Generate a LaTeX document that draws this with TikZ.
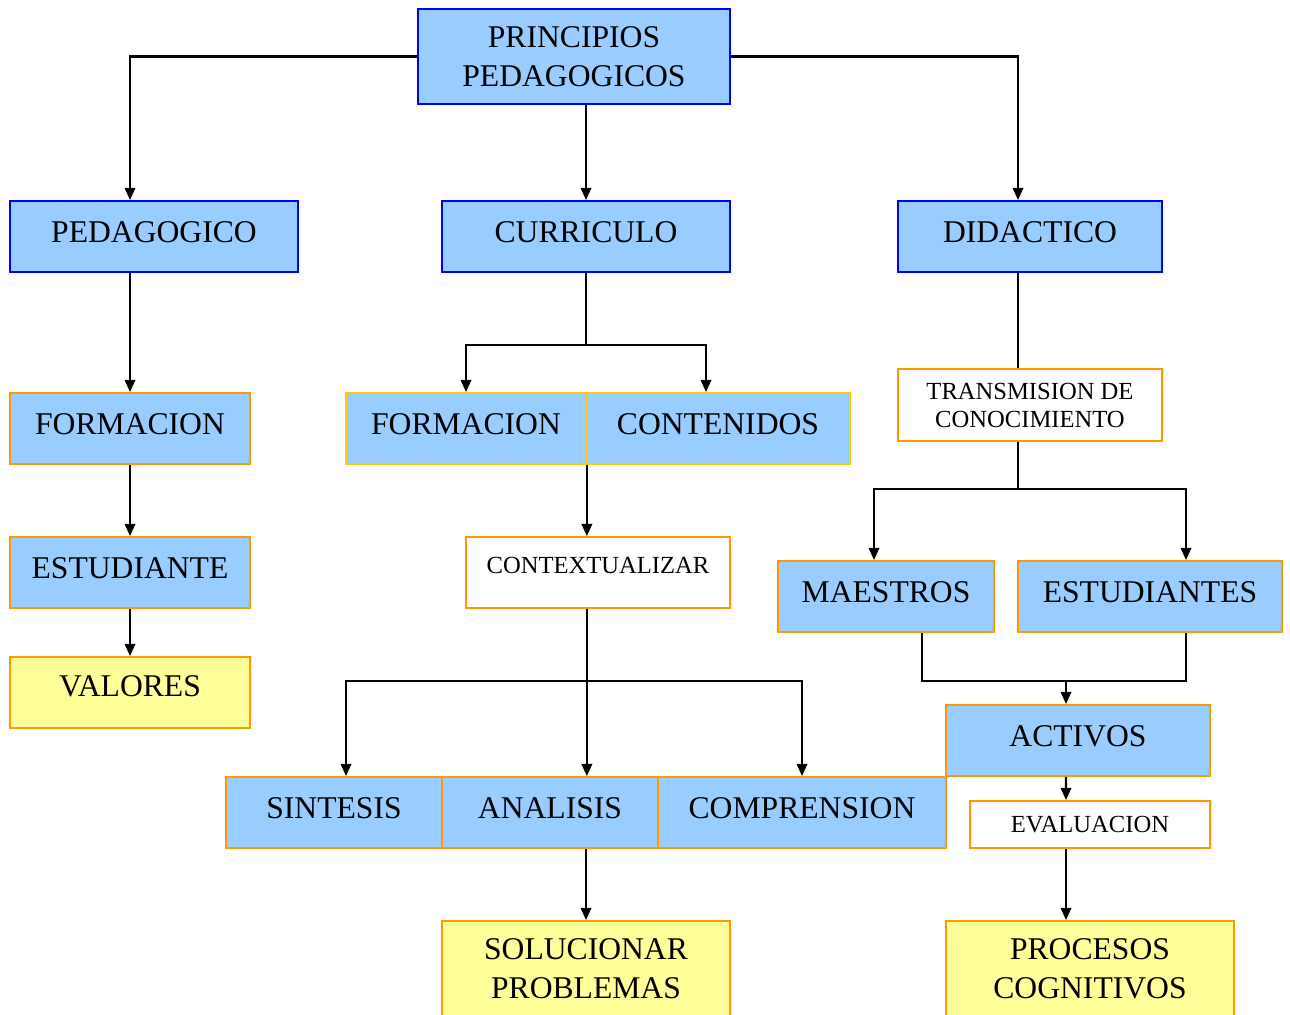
\documentclass[tikz,border=0pt]{standalone}
\usepackage{fontspec}
\setmainfont{Liberation Serif}
\usepackage{tikz}
\usetikzlibrary{shapes,arrows}
\usetikzlibrary{arrows.meta}

\definecolor{cajaazul}{HTML}{99CCFF}
\definecolor{cajaamarilla}{HTML}{FFFF99}
\definecolor{bordeazul}{HTML}{0000FF}
\definecolor{bordenaranja}{HTML}{FF9900}
\definecolor{bordeoro}{HTML}{FFCC00}

\tikzset{
	caja/.style={rectangle, line width=1pt, inner sep=0pt, align=center,
		font=\fontsize{18}{22}\selectfont, minimum height=1.42cm, text depth=5pt},
	azul/.style={caja, fill=cajaazul, draw=bordeazul},
	naranja/.style={caja, fill=cajaazul, draw=bordenaranja},
	oro/.style={caja, fill=cajaazul, draw=bordeoro},
	blanca/.style={caja, fill=white, draw=bordenaranja, font=\fontsize{14}{16}\selectfont, text depth=0pt},
	amarilla/.style={caja, fill=cajaamarilla, draw=bordenaranja},
	flecha/.style={-{Triangle[length=7pt,width=6pt]}, line width=1.2pt},
	linea/.style={line width=1.2pt}
}

\begin{document}
\begin{tikzpicture}

	\useasboundingbox (0,0) rectangle (25.8,-20.3);

	% Draw boxes
	\node[azul, minimum width=6.24cm, minimum height=1.90cm, text depth=0pt] (prin) at (11.48,-1.13) {PRINCIPIOS\\PEDAGOGICOS};
	\node[azul, minimum width=5.76cm] (ped) at (3.08,-4.73) {PEDAGOGICO};
	\node[azul, minimum width=5.76cm] (cur) at (11.72,-4.73) {CURRICULO};
	\node[azul, minimum width=5.28cm] (did) at (20.60,-4.73) {DIDACTICO};
	\node[naranja, minimum width=4.80cm] (form1) at (2.60,-8.57) {FORMACION};
	\node[oro, minimum width=4.80cm] (form2) at (9.32,-8.57) {FORMACION};
	\node[oro, minimum width=5.28cm] (cont) at (14.36,-8.57) {CONTENIDOS};
	\node[blanca, minimum width=5.28cm, minimum height=1.44cm] (trans) at (20.60,-8.10) {TRANSMISION DE\\CONOCIMIENTO};
	\node[naranja, minimum width=4.80cm] (est) at (2.60,-11.45) {ESTUDIANTE};
	\node[blanca, minimum width=5.28cm, text depth=8pt] (ctx) at (11.96,-11.45) {CONTEXTUALIZAR};
	\node[naranja, minimum width=4.32cm] (mae) at (17.72,-11.93) {MAESTROS};
	\node[naranja, minimum width=5.28cm] (ests) at (23.00,-11.93) {ESTUDIANTES};
	\node[amarilla, minimum width=4.80cm, text depth=7pt] (val) at (2.60,-13.85) {VALORES};
	\node[naranja, minimum width=5.28cm] (act) at (21.56,-14.81) {ACTIVOS};
	\node[naranja, minimum width=4.32cm] (sin) at (6.68,-16.25) {SINTESIS};
	\node[naranja, minimum width=4.32cm] (ana) at (11.00,-16.25) {ANALISIS};
	\node[naranja, minimum width=5.76cm] (comp) at (16.04,-16.25) {COMPRENSION};
	\node[blanca, minimum width=4.80cm, minimum height=0.94cm] (eva) at (21.80,-16.49) {EVALUACION};
	\node[amarilla, minimum width=5.76cm, minimum height=2.08cm] (sol) at (11.72,-19.46) {SOLUCIONAR\\PROBLEMAS};
	\node[amarilla, minimum width=5.76cm, minimum height=2.08cm] (proc) at (21.80,-19.46) {PROCESOS\\COGNITIVOS};

	% Draw top level arrows
	\draw[flecha] (prin.west) -| (ped.north -| form1);
	\draw[flecha] (prin.east) -| ([xshift=-0.24cm]did.north);
	\draw[flecha] (prin.south -| cur) -- (cur.north);

	% Draw left branch
	\draw[flecha] (ped.south -| form1) -- (form1.north);
	\draw[flecha] (form1) -- (est);
	\draw[flecha] (est.south) -- (val.north);

	% Draw middle branch
	\draw[linea] (cur.south) -- (cur.south |- 0,-6.90) coordinate (cj);
	\draw[flecha] (cj) -| (form2.north);
	\draw[flecha] (cj) -| ([xshift=-0.24cm]cont.north);
	\draw[flecha] (form2.south east) -- (ctx.north -| form2.east);
	\draw[linea] (ctx.south -| form2.east) -- (form2.east |- 0,-13.62) coordinate (xj);
	\draw[flecha] (xj) -| ([xshift=0.24cm]sin.north);
	\draw[flecha] (xj) -- (ana.north -| xj);
	\draw[flecha] (xj) -| (comp.north);
	\draw[flecha] (ana.south -| sol) -- (sol.north);

	% Draw right branch
	\draw[linea] ([xshift=-0.24cm]did.south) -- ([xshift=-0.24cm]trans.north);
	\draw[linea] ([xshift=-0.24cm]trans.south) -- ([xshift=-0.24cm]trans.south |- 0,-9.78) coordinate (tj);
	\draw[flecha] (tj) -| ([xshift=-0.24cm]mae.north);
	\draw[flecha] (tj) -| ([xshift=0.72cm]ests.north);
	\draw[linea] ([xshift=0.72cm]mae.south) |- (act.north |- 0,-13.62) coordinate (mj) -| ([xshift=0.72cm]ests.south);
	\draw[flecha] ([xshift=-0.24cm]mj) -- ([xshift=-0.24cm]act.north);
	\draw[flecha] ([xshift=-0.24cm]act.south) -- ([xshift=-0.48cm]eva.north);
	\draw[flecha] ([xshift=-0.48cm]eva.south) -- ([xshift=-0.48cm]proc.north);

\end{tikzpicture}
\end{document}
